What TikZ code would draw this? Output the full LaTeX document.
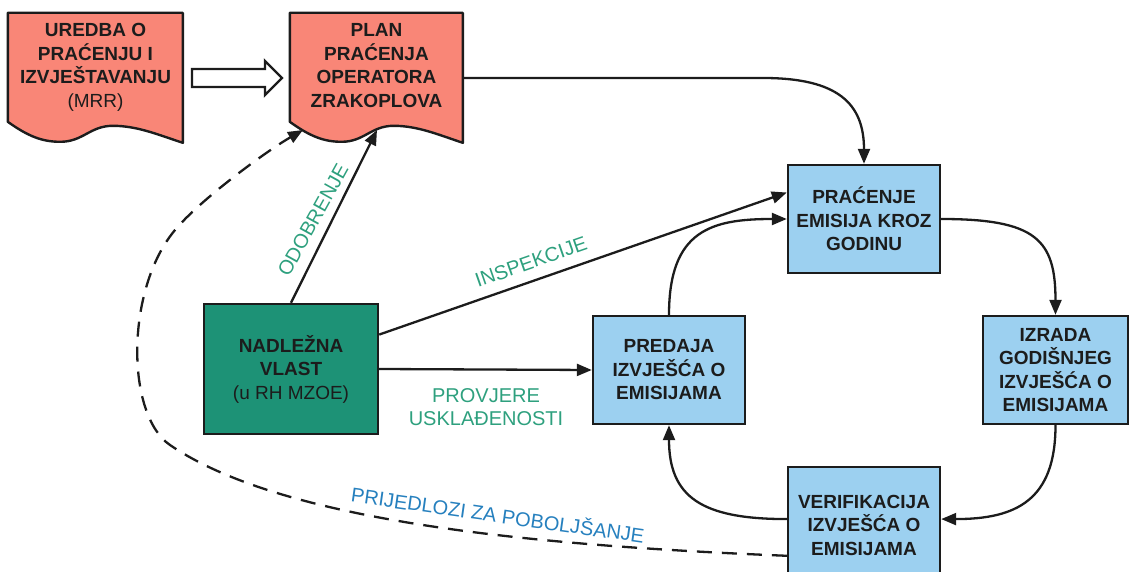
\documentclass[tikz,border=0pt]{standalone}
\usepackage{fontspec}
\setmainfont{Liberation Sans}
\usetikzlibrary{arrows.meta,calc}
\definecolor{salmon}{RGB}{249,134,119}
\definecolor{tealbox}{RGB}{29,146,118}
\definecolor{lightblue}{RGB}{156,208,240}
\definecolor{labgreen}{RGB}{46,160,126}
\definecolor{labblue}{RGB}{38,128,190}
\definecolor{inkdark}{RGB}{28,28,28}
\begin{document}
\begin{tikzpicture}[x=1pt,y=-1pt,
  boxfont/.style={font=\bfseries\fontsize{19}{23.5}\selectfont},
  procbox/.style={draw=inkdark, line width=2.4pt, fill=lightblue, align=center,
    boxfont, text=inkdark, inner sep=0pt, minimum width=152pt, minimum height=108pt},
  docnode/.style={inner sep=0pt, minimum height=130pt},
  doctext/.style={align=center, boxfont, text=inkdark, inner sep=0pt},
  docline/.style={draw=inkdark, line width=2.4pt, fill=salmon, line join=round},
  conn/.style={draw=inkdark, line width=2.3pt, -{Triangle[length=15pt,width=12pt]}},
  dashconn/.style={conn, dash pattern=on 15pt off 10pt},
  lab/.style={text=labgreen, font=\fontsize{20}{23}\selectfont, inner sep=0pt, align=center},
]
\useasboundingbox (0,0) rectangle (1130,572);

% document shapes
\node[docnode, minimum width=175pt] (ured) at (95.5,78) {};
\node[docnode, minimum width=173pt] (plan) at (376.5,78) {};
\begin{scope}[shift={(ured.north west)}]
  \path[docline] (0,0) -- (175,0) -- (175,130)
    .. controls (150.5,122) and (129.5,113) .. (105,113)
    .. controls (82.25,113) and (75.25,129) .. (52.5,129)
    .. controls (35,129) and (21,124) .. (0,109) -- cycle;
\end{scope}
\begin{scope}[shift={(plan.north west)}]
  \path[docline] (0,0) -- (173,0) -- (173,130)
    .. controls (148.8,122) and (128,113) .. (103.8,113)
    .. controls (81.3,113) and (74.4,129) .. (51.9,129)
    .. controls (34.6,129) and (20.8,124) .. (0,109) -- cycle;
\end{scope}
\node[doctext] (uredT) at (95.5,67.5) {UREDBA O\\PRAĆENJU I\\IZVJEŠTAVANJU\\{\mdseries (MRR)}};
\node[doctext] (planT) at (376.5,65.5) {PLAN\\PRAĆENJA\\OPERATORA\\ZRAKOPLOVA};
\coordinate (planOdo) at (377,130);
\coordinate (planDash) at (303,130);

% hollow block arrow between the documents
\path[draw=inkdark, line width=2.3pt, fill=white, line join=miter]
  (192,69) -- (265,69) -- (265,61) -- (282,78) -- (265,95) -- (265,87) -- (192,87) -- cycle;

% process boxes
\node[procbox] (prac) at (864,219) {PRAĆENJE\\EMISIJA KROZ\\GODINU};
\node[procbox, minimum width=145pt] (izr) at (1055.5,370) {IZRADA\\GODIŠNJEG\\IZVJEŠĆA O\\EMISIJAMA};
\node[procbox] (pred) at (669,370) {PREDAJA\\IZVJEŠĆA O\\EMISIJAMA};
\node[procbox, minimum height=116pt] (verif) at (864,525) {VERIFIKACIJA\\IZVJEŠĆA O\\EMISIJAMA};
\node[procbox, fill=tealbox, minimum width=174pt, minimum height=130pt] (nad) at (291,369)
  {NADLEŽNA\\VLAST\\{\mdseries (u RH MZOE)}};

% connectors
\draw[conn] (plan.east) -- ++(300,0) .. controls +(75,0) and +(0,-60) .. (prac.north);
\draw[conn] (prac.east) .. controls +(95,0) and +(0,-75) .. (izr.north);
\draw[conn] (izr.south) .. controls +(0,75) and +(75,0) .. ($(verif.north east)!0.45!(verif.south east)$);
\draw[conn] ($(verif.north west)!0.45!(verif.south west)$) .. controls +(-85,0) and +(0,72) .. (pred.south);
\draw[conn] (pred.north) .. controls +(0,-85) and +(-75,0) .. (prac.west);
\draw[conn] ($(nad.north east)!0.24!(nad.south east)$) -- ($(prac.north west)!0.26!(prac.south west)$);
\draw[conn] (nad.east) -- (pred.west);
\draw[conn] (nad.north) -- (planOdo);
\draw[dashconn] ($(verif.north west)!0.76!(verif.south west)$)
  .. controls (520,545) and (280,520) .. (170,445)
  .. controls (126,415) and (125,290) .. (175,230)
  .. controls (200,200) and (265,152) .. (planDash);

% labels
\node[lab, rotate=61] (lOdo) at (313,220) {ODOBRENJE};
\node[lab, rotate=19.3] (lInsp) at (531,262) {INSPEKCIJE};
\node[lab] (lProv) at (486,407) {PROVJERE\\USKLAĐENOSTI};
\node[lab, text=labblue, rotate=-8] (lPrij) at (498,514) {PRIJEDLOZI ZA POBOLJŠANJE};
\end{tikzpicture}
\end{document}
